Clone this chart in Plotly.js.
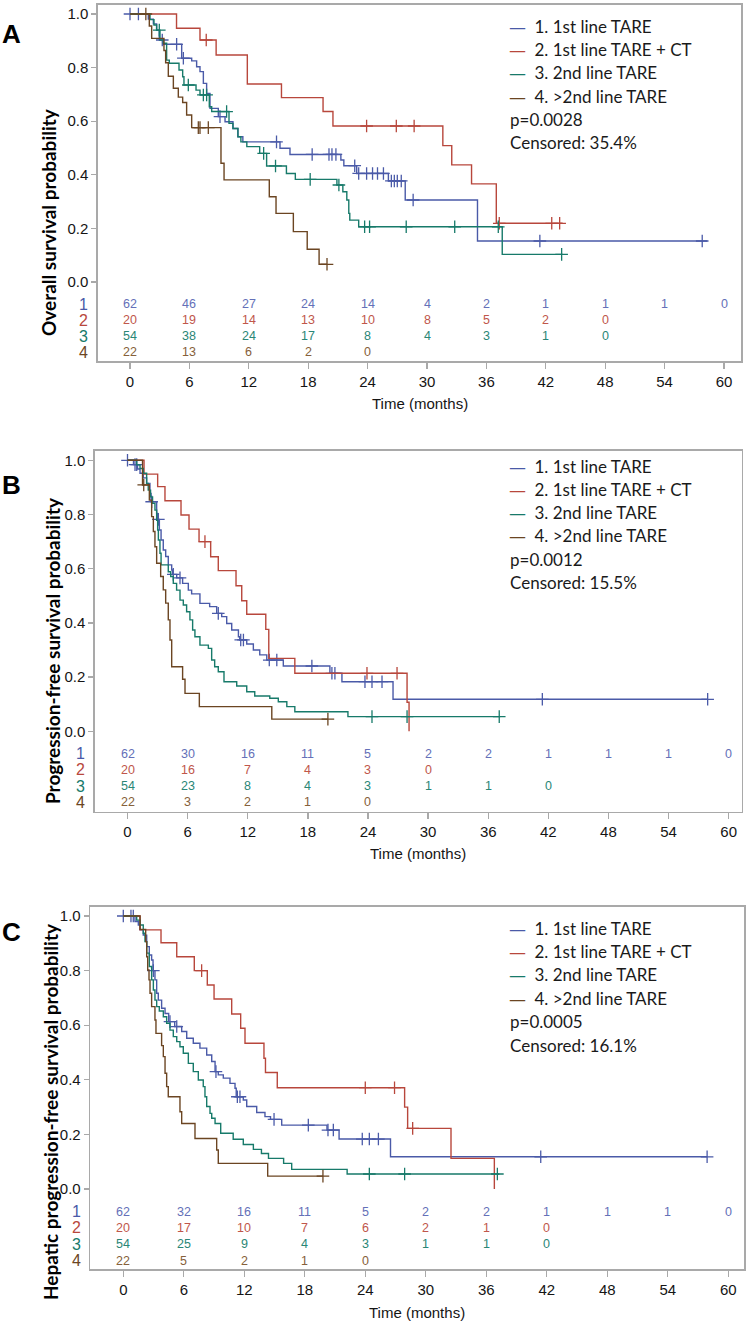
<!DOCTYPE html>
<html><head><meta charset="utf-8">
<script src="https://cdn.plot.ly/plotly-3.0.1.min.js"></script>
<style>html,body{margin:0;padding:0;background:#fff}#chart{width:749px;height:1324px}</style>
</head><body><div id="chart"></div>
<script>
// ---------- shared labels ----------
const riskTimes = [0, 6, 12, 18, 24, 30, 36, 42, 48, 54, 60];
const probTicks = [0, 0.2, 0.4, 0.6, 0.8, 1.0];
const probTickText = ['0.0', '0.2', '0.4', '0.6', '0.8', '1.0'];
const groupNames = ['1. 1st line TARE', '2. 1st line TARE + CT', '3. 2nd line TARE', '4. >2nd line TARE'];
const groupLabels = ['1', '2', '3', '4'];
const panelLetters = ['A', 'B', 'C'];
const yTitles = ['Overall survival probability', 'Progression-free survival probability', 'Hepatic progression-free survival probability'];
const xTitle = 'Time (months)';
const pValues = ['p=0.0028', 'p=0.0012', 'p=0.0005'];
const censoredText = ['Censored: 35.4%', 'Censored: 15.5%', 'Censored: 16.1%'];

// ---------- Panel A: overall survival ----------
const osT1 = [0, 1.85, 2.36, 2.69, 2.96, 3.37, 5.22, 6.23, 6.73, 7.07, 7.41, 7.74, 8.08, 8.92, 9.6, 10.4, 10.9, 11.4, 15.15, 16.16, 21.3, 21.6, 22.9, 26.1, 27.8, 35.1, 58.3];
const osS1 = [1, 0.981, 0.963, 0.94, 0.903, 0.887, 0.835, 0.825, 0.803, 0.785, 0.741, 0.704, 0.648, 0.617, 0.598, 0.573, 0.542, 0.523, 0.499, 0.476, 0.455, 0.434, 0.405, 0.377, 0.306, 0.153, 0.153];
const osC1 = [0, 0.85, 3.26, 4.71, 5.39, 9.09, 14.8, 18.4, 20.1, 20.4, 20.8, 22.7, 23.1, 23.9, 24.5, 25.0, 25.6, 26.4, 26.7, 27.0, 27.4, 28.6, 41.4, 57.8];
const osT2 = [0, 4.7, 7.07, 8.7, 11.85, 15.3, 19.5, 20.5, 31.6, 32.5, 34.5, 37.0, 43.7];
const osS2 = [1, 0.947, 0.903, 0.847, 0.739, 0.688, 0.636, 0.582, 0.509, 0.437, 0.366, 0.219, 0.219];
const osC2 = [7.7, 23.9, 26.9, 28.7, 37.3, 42.6, 43.4];
const osT3 = [0, 2.02, 2.42, 2.69, 3.03, 3.37, 3.7, 3.97, 4.95, 5.32, 5.45, 6.67, 7.07, 8.01, 8.25, 10.0, 10.4, 10.9, 11.2, 11.8, 13.1, 13.8, 15.8, 16.7, 20.9, 21.5, 21.9, 22.1, 22.2, 23.1, 37.6, 43.7];
const osS3 = [1, 0.979, 0.959, 0.94, 0.903, 0.891, 0.828, 0.816, 0.791, 0.766, 0.735, 0.716, 0.698, 0.654, 0.636, 0.592, 0.573, 0.542, 0.523, 0.505, 0.48, 0.433, 0.405, 0.383, 0.362, 0.337, 0.306, 0.256, 0.231, 0.206, 0.103, 0.103];
const osC3 = [2.96, 5.89, 7.41, 7.74, 9.76, 13.5, 14.7, 18.2, 21.1, 23.7, 24.2, 27.9, 32.8, 37.2, 43.6];
const osT4 = [0, 1.95, 2.19, 3.43, 3.6, 3.87, 4.38, 4.88, 5.32, 5.72, 6.23, 9.19, 9.5, 14.07, 14.75, 16.5, 17.9, 19.1, 19.9];
const osS4 = [1, 0.955, 0.909, 0.864, 0.818, 0.768, 0.723, 0.69, 0.67, 0.623, 0.576, 0.443, 0.381, 0.318, 0.256, 0.188, 0.122, 0.066, 0.066];
const osC4 = [1.6, 6.9, 7.07, 7.91, 19.9];
const osRisk1 = [62, 46, 27, 24, 14, 4, 2, 1, 1, 1, 0];
const osRisk2 = [20, 19, 14, 13, 10, 8, 5, 2, 0];
const osRisk3 = [54, 38, 24, 17, 8, 4, 3, 1, 0];
const osRisk4 = [22, 13, 6, 2, 0];

// ---------- Panel B: progression-free survival ----------
const pfsT1 = [0, 0.6, 1.0, 1.25, 1.58, 1.91, 2.24, 2.35, 2.91, 3.0, 3.18, 3.35, 3.57, 3.81, 4.07, 4.41, 4.5, 4.91, 5.5, 6.07, 6.4, 7.23, 8.2, 8.9, 9.4, 9.9, 10.4, 11.07, 11.2, 11.9, 12.56, 13.2, 13.9, 15.55, 20.2, 21.4, 26.5, 57.9];
const pfsS1 = [1, 0.984, 0.968, 0.952, 0.935, 0.915, 0.878, 0.847, 0.804, 0.782, 0.743, 0.706, 0.669, 0.645, 0.614, 0.595, 0.579, 0.566, 0.546, 0.521, 0.507, 0.472, 0.46, 0.435, 0.423, 0.398, 0.374, 0.349, 0.337, 0.322, 0.3, 0.282, 0.263, 0.241, 0.214, 0.183, 0.118, 0.118];
const pfsC1 = [0, 0.75, 0.92, 2.41, 3.08, 4.57, 5.24, 9.06, 11.3, 11.57, 14.15, 14.9, 18.4, 20.4, 20.7, 23.7, 24.4, 25.4, 41.4, 57.9];
const pfsT2 = [0, 1.65, 3.01, 3.74, 5.34, 6.14, 7.14, 8.3, 9.06, 10.83, 11.4, 11.9, 13.8, 14.1, 16.7, 27.9, 28.1];
const pfsS2 = [1, 0.949, 0.903, 0.851, 0.798, 0.746, 0.7, 0.644, 0.593, 0.537, 0.482, 0.432, 0.376, 0.269, 0.214, 0.107, 0];
const pfsC2 = [7.73, 23.9, 26.9];
const pfsT3 = [0, 0.92, 1.25, 1.58, 1.91, 2.07, 2.3, 2.5, 2.74, 2.91, 3.01, 3.08, 3.24, 3.35, 4.07, 4.31, 4.57, 4.9, 5.24, 5.57, 5.9, 6.23, 6.5, 6.73, 7.23, 8.07, 8.4, 8.7, 9.06, 9.63, 10.9, 11.9, 12.7, 14.2, 15.05, 15.9, 16.7, 22.0, 37.2];
const pfsS3 = [1, 0.983, 0.97, 0.952, 0.915, 0.89, 0.865, 0.841, 0.816, 0.779, 0.743, 0.706, 0.657, 0.614, 0.589, 0.571, 0.546, 0.521, 0.484, 0.466, 0.441, 0.411, 0.374, 0.349, 0.318, 0.306, 0.263, 0.238, 0.22, 0.183, 0.167, 0.146, 0.13, 0.122, 0.109, 0.091, 0.072, 0.054, 0.054];
const pfsC3 = [24.4, 27.9, 37.1];
const pfsT4 = [0, 1.5, 2.18, 2.41, 2.58, 2.74, 2.91, 3.31, 3.57, 3.81, 4.07, 4.24, 4.41, 5.5, 5.74, 7.17, 14.4, 20.0];
const pfsS4 = [1, 0.909, 0.853, 0.792, 0.737, 0.681, 0.62, 0.571, 0.522, 0.473, 0.411, 0.337, 0.238, 0.192, 0.14, 0.091, 0.045, 0.045];
const pfsC4 = [1.62, 20.0];
const pfsRisk1 = [62, 30, 16, 11, 5, 2, 2, 1, 1, 1, 0];
const pfsRisk2 = [20, 16, 7, 4, 3, 0];
const pfsRisk3 = [54, 23, 8, 4, 3, 1, 1, 0];
const pfsRisk4 = [22, 3, 2, 1, 0];

// ---------- Panel C: hepatic progression-free survival ----------
const hpfsT1 = [0, 1.16, 1.49, 1.66, 1.98, 2.32, 2.58, 2.81, 2.95, 3.14, 3.31, 3.47, 3.8, 4.14, 4.5, 5.1, 5.79, 6.29, 6.94, 7.6, 8.27, 8.77, 9.1, 9.42, 9.92, 10.58, 11.08, 11.2, 11.9, 12.24, 13.23, 14.05, 14.6, 15.71, 20.2, 21.4, 26.5, 57.9];
const hpfsS1 = [1, 0.98, 0.967, 0.949, 0.93, 0.888, 0.857, 0.839, 0.8, 0.766, 0.717, 0.692, 0.662, 0.643, 0.613, 0.595, 0.577, 0.552, 0.534, 0.516, 0.491, 0.467, 0.43, 0.418, 0.406, 0.387, 0.369, 0.338, 0.326, 0.302, 0.28, 0.265, 0.255, 0.234, 0.216, 0.183, 0.118, 0.118];
const hpfsC1 = [0, 0.76, 0.99, 2.98, 4.63, 5.3, 9.19, 11.31, 11.57, 14.95, 18.35, 20.3, 20.83, 23.7, 24.4, 25.3, 41.4, 57.9];
const hpfsT2 = [0, 1.66, 3.74, 5.3, 7.04, 8.33, 9.0, 10.75, 11.64, 12.07, 13.95, 14.1, 15.27, 27.9, 28.2, 32.5, 36.8];
const hpfsS2 = [1, 0.949, 0.902, 0.851, 0.8, 0.747, 0.696, 0.641, 0.589, 0.534, 0.479, 0.427, 0.371, 0.3, 0.222, 0.112, 0];
const hpfsC2 = [7.77, 24.0, 26.9, 28.7];
const hpfsT3 = [0, 1.33, 1.66, 1.98, 2.15, 2.32, 2.58, 2.81, 2.98, 3.14, 3.31, 3.57, 3.97, 4.3, 4.63, 4.96, 5.3, 5.62, 5.95, 6.45, 6.94, 7.44, 7.93, 8.1, 8.27, 8.6, 8.77, 9.1, 9.66, 10.9, 11.9, 12.9, 13.7, 14.4, 15.9, 16.7, 22.2, 37.3];
const hpfsS3 = [1, 0.985, 0.967, 0.937, 0.906, 0.864, 0.815, 0.766, 0.729, 0.692, 0.668, 0.652, 0.631, 0.607, 0.582, 0.558, 0.54, 0.521, 0.497, 0.46, 0.43, 0.399, 0.375, 0.338, 0.302, 0.277, 0.259, 0.24, 0.204, 0.182, 0.163, 0.145, 0.13, 0.112, 0.094, 0.072, 0.055, 0.055];
const hpfsC3 = [24.4, 27.9, 37.1];
const hpfsT4 = [0, 1.66, 2.22, 2.32, 2.42, 2.55, 2.65, 2.81, 3.14, 3.24, 3.8, 3.97, 4.14, 4.3, 4.46, 5.62, 5.79, 7.11, 9.26, 9.42, 14.32, 19.8];
const hpfsS4 = [1, 0.951, 0.906, 0.851, 0.802, 0.766, 0.717, 0.668, 0.619, 0.57, 0.525, 0.485, 0.424, 0.375, 0.338, 0.283, 0.24, 0.185, 0.143, 0.094, 0.047, 0.047];
const hpfsC4 = [19.8];
const hpfsRisk1 = [62, 32, 16, 11, 5, 2, 2, 1, 1, 1, 0];
const hpfsRisk2 = [20, 17, 10, 7, 6, 2, 1, 0];
const hpfsRisk3 = [54, 25, 9, 4, 3, 1, 1, 0];
const hpfsRisk4 = [22, 5, 2, 1, 0];

// ---------- styling / geometry ----------
const lineColors = ['#4a5aa8', '#b8473c', '#177a6a', '#6b4522'];
const riskColors = ['#6470b8', '#c0564b', '#2a8676', '#86603a'];
const W = 749, H = 1324;
const fx = p => p / W;
const fy = p => 1 - p / H;

const panels = [
  { T: [osT1, osT2, osT3, osT4], S: [osS1, osS2, osS3, osS4], C: [osC1, osC2, osC3, osC4], R: [osRisk1, osRisk2, osRisk3, osRisk4],
    frame: [98, 741, 5, 361], x0: 130, pxPerMonth: 9.9, y0: 282, pxPerUnit: 268,
    letterY: 34, ytitleX: 48, ytitleY: 222, xtitleY: 403, legY: 26, legDy: 23.4, rowX: 83 },
  { T: [pfsT1, pfsT2, pfsT3, pfsT4], S: [pfsS1, pfsS2, pfsS3, pfsS4], C: [pfsC1, pfsC2, pfsC3, pfsC4], R: [pfsRisk1, pfsRisk2, pfsRisk3, pfsRisk4],
    frame: [95, 741.7, 451, 811.7], x0: 127.5, pxPerMonth: 10.02, y0: 731.3, pxPerUnit: 271,
    letterY: 485, ytitleX: 52, ytitleY: 651, xtitleY: 853, legY: 466, legDy: 23.3, rowX: 80 },
  { T: [hpfsT1, hpfsT2, hpfsT3, hpfsT4], S: [hpfsS1, hpfsS2, hpfsS3, hpfsS4], C: [hpfsC1, hpfsC2, hpfsC3, hpfsC4], R: [hpfsRisk1, hpfsRisk2, hpfsRisk3, hpfsRisk4],
    frame: [90.3, 744, 906.7, 1269.3], x0: 123.3, pxPerMonth: 10.083, y0: 1189, pxPerUnit: 273,
    letterY: 932, ytitleX: 50, ytitleY: 1112, xtitleY: 1312, legY: 928, legDy: 23.4, rowX: 76 }
];
const riskRowY = [-0.083, -0.142, -0.202, -0.262];

function stepAt(T, S, t) {
  let v = S[0];
  for (let i = 0; i < T.length; i++) { if (T[i] <= t) v = S[i]; }
  return v;
}

const traces = [];
const layout = {
  width: W, height: H, margin: { l: 0, r: 0, t: 0, b: 0 },
  paper_bgcolor: '#ffffff', plot_bgcolor: '#ffffff', showlegend: false,
  font: { family: 'Liberation Sans, Arial, sans-serif', color: '#1a1a1a' },
  annotations: []
};
const legFont = { family: 'Lato, sans-serif', size: 17, color: '#1a1a1a' };

panels.forEach((p, k) => {
  const sfx = k === 0 ? '' : String(k + 1);
  const xa = 'x' + sfx, ya = 'y' + sfx;
  const [l, r, t, b] = p.frame;
  const xr = [(l - p.x0) / p.pxPerMonth, (r - p.x0) / p.pxPerMonth];
  const yr = [(p.y0 - b) / p.pxPerUnit, (p.y0 - t) / p.pxPerUnit];
  const axCommon = {
    showgrid: false, zeroline: false, showline: true, mirror: true,
    linecolor: '#a9a9a9', linewidth: 1.6, ticks: 'outside', tickcolor: '#a9a9a9', tickwidth: 1.3,
    tickfont: { family: 'Liberation Sans, Arial, sans-serif', size: 15, color: '#151515' }, fixedrange: true
  };
  layout['xaxis' + sfx] = Object.assign({}, axCommon, {
    domain: [fx(l), fx(r)], range: xr, anchor: ya, tickvals: riskTimes, ticklen: 6
  });
  layout['yaxis' + sfx] = Object.assign({}, axCommon, {
    domain: [fy(b), fy(t)], range: yr, anchor: xa, tickvals: probTicks, ticktext: probTickText, ticklen: 5
  });

  for (let g = 0; g < 4; g++) {
    traces.push({
      type: 'scatter', mode: 'lines', x: p.T[g], y: p.S[g], xaxis: xa, yaxis: ya,
      line: { shape: 'hv', color: lineColors[g], width: 1.4 }, hoverinfo: 'skip', name: groupNames[g]
    });
    traces.push({
      type: 'scatter', mode: 'markers', x: p.C[g], y: p.C[g].map(c => stepAt(p.T[g], p.S[g], c)),
      xaxis: xa, yaxis: ya, hoverinfo: 'skip', name: groupNames[g] + ' censored',
      marker: { symbol: 'cross-thin-open', size: 9, color: lineColors[g], line: { color: lineColors[g], width: 1.3 } }
    });
    p.R[g].forEach((n, i) => {
      layout.annotations.push({
        xref: xa, yref: ya, x: riskTimes[i], y: riskRowY[g], text: String(n), showarrow: false,
        xanchor: 'center', yanchor: 'middle',
        font: { family: 'Liberation Sans, Arial, sans-serif', size: 12.5, color: riskColors[g] }
      });
    });
    layout.annotations.push({
      xref: 'paper', yref: ya, x: fx(p.rowX), y: riskRowY[g], text: groupLabels[g], showarrow: false,
      xanchor: 'center', yanchor: 'middle',
      font: { family: 'Liberation Sans, Arial, sans-serif', size: 16, color: lineColors[g] }
    });
    layout.annotations.push({
      xref: 'paper', yref: 'paper', x: fx(507), y: fy(p.legY + g * p.legDy), showarrow: false,
      xanchor: 'left', yanchor: 'middle',
      text: '<span style="color:' + lineColors[g] + ';font-family:DejaVu Sans">\u2014</span>\u2002' + groupNames[g].replace('>', '&gt;'),
      font: legFont
    });
  }
  layout.annotations.push({
    xref: 'paper', yref: 'paper', x: fx(508), y: fy(p.legY + 4 * p.legDy), showarrow: false,
    xanchor: 'left', yanchor: 'middle', text: pValues[k], font: legFont
  });
  layout.annotations.push({
    xref: 'paper', yref: 'paper', x: fx(508), y: fy(p.legY + 5 * p.legDy), showarrow: false,
    xanchor: 'left', yanchor: 'middle', text: censoredText[k], font: legFont
  });
  layout.annotations.push({
    xref: 'paper', yref: 'paper', x: fx(11), y: fy(p.letterY), showarrow: false,
    xanchor: 'center', yanchor: 'middle', text: '<b>' + panelLetters[k] + '</b>',
    font: { family: 'Liberation Sans, Arial, sans-serif', size: 26, color: '#000' }
  });
  layout.annotations.push({
    xref: 'paper', yref: 'paper', x: fx(p.ytitleX), y: fy(p.ytitleY), showarrow: false,
    xanchor: 'center', yanchor: 'middle', textangle: -90, text: '<b>' + yTitles[k] + '</b>',
    font: { family: 'Lato, sans-serif', size: 19, color: '#000' }
  });
  layout.annotations.push({
    xref: 'paper', yref: 'paper', x: fx((l + r) / 2), y: fy(p.xtitleY), showarrow: false,
    xanchor: 'center', yanchor: 'middle', text: xTitle,
    font: { family: 'Liberation Sans, Arial, sans-serif', size: 15, color: '#151515' }
  });
});

Plotly.newPlot('chart', traces, layout, { staticPlot: true, displayModeBar: false });
</script>
</body></html>
